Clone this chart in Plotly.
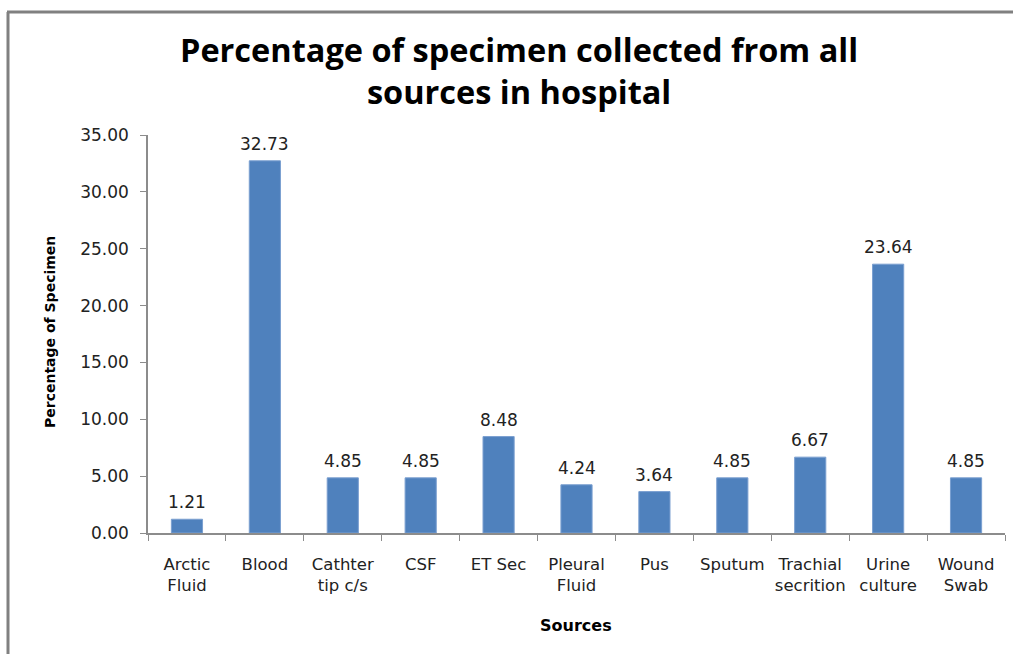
import plotly.graph_objects as go

# Specimen sources and their share of all collected specimens (%)
sources = ["Arctic<br>Fluid", "Blood", "Cathter<br>tip c/s", "CSF", "ET Sec",
           "Pleural<br>Fluid", "Pus", "Sputum", "Trachial<br>secrition",
           "Urine<br>culture", "Wound<br>Swab"]
percentages = [1.21, 32.73, 4.85, 4.85, 8.48, 4.24, 3.64, 4.85, 6.67, 23.64, 4.85]
y_ticks = [0, 5, 10, 15, 20, 25, 30, 35]

W, H = 1013, 654
L, R, T, B = 148, 8, 135, 121
pw, ph = W - L - R, H - T - B

def px_x(px):
    return (px - L) / pw

def px_y(py):
    return (H - B - py) / ph

tick_font = dict(family="DejaVu Sans", size=17, color="#222222")
bold_font = dict(family="DejaVu Sans", size=15, color="black")
title_font = dict(family="Open Sans", size=32.5, color="black")
bar_color = "#4F81BD"
axis_gray = "#8c8c8c"

fig = go.Figure(go.Bar(
    x=sources,
    y=percentages,
    marker=dict(color=bar_color, line=dict(color="#7A9FD0", width=1)),
    cliponaxis=False,
))

# Value labels sitting just above each bar
value_labels = [
    dict(text=f"{v:.2f}", x=s, y=v, xref="x", yref="y",
         xanchor="center", yanchor="bottom", yshift=5,
         font=tick_font, showarrow=False)
    for s, v in zip(sources, percentages)
]

annotations = value_labels + [
    dict(text="<b>Percentage of specimen collected from all<br>sources in hospital</b>",
         font=title_font, align="center",
         xref="paper", yref="paper", x=px_x(519), y=px_y(71),
         xanchor="center", yanchor="middle", showarrow=False),
    dict(text="<b>Percentage of Specimen</b>", font=dict(bold_font, size=14),
         xref="paper", yref="paper", x=px_x(50), y=px_y(332),
         xanchor="center", yanchor="middle", textangle=-90, showarrow=False),
    dict(text="<b>Sources</b>", font=dict(bold_font, size=16),
         xref="paper", yref="paper", x=px_x(576), y=px_y(625),
         xanchor="center", yanchor="middle", showarrow=False),
]

fig.update_layout(
    width=W, height=H,
    margin=dict(l=L, r=R, t=T, b=B),
    paper_bgcolor="white",
    plot_bgcolor="white",
    bargap=0.6,
    showlegend=False,
    xaxis=dict(
        type="category",
        showline=True, linecolor=axis_gray, linewidth=1.5,
        ticks="outside", tickson="boundaries", ticklen=6, tickcolor=axis_gray,
        tickfont=dict(tick_font, size=16.5), tickangle=0, ticklabelstandoff=15,
        showgrid=False,
    ),
    yaxis=dict(
        range=[0, 35],
        tickvals=y_ticks,
        tickformat=".2f",
        showline=True, linecolor=axis_gray, linewidth=1.5,
        ticks="outside", ticklen=6, tickcolor=axis_gray,
        tickfont=tick_font, ticklabelstandoff=8,
        showgrid=False, zeroline=False,
    ),
    annotations=annotations,
    shapes=[
        dict(type="line", xref="paper", yref="paper",
             x0=px_x(8), x1=px_x(8), y0=px_y(12), y1=px_y(H + 10),
             line=dict(color="#808080", width=3)),
        dict(type="line", xref="paper", yref="paper",
             x0=px_x(7), x1=px_x(W + 10), y0=px_y(12), y1=px_y(12),
             line=dict(color="#808080", width=3)),
    ],
)

fig.write_html("out.html")
